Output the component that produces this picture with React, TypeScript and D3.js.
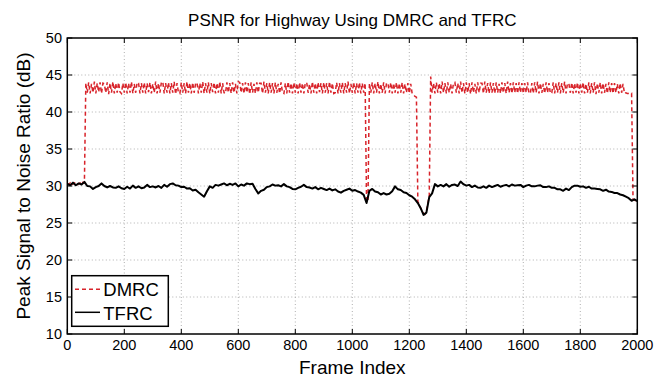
import React from 'react';
import * as d3 from 'd3';

// frames between two samples of each series
const dmrcStep = 5;
const tfrcStep = 10;

const xTicks = [0, 200, 400, 600, 800, 1000, 1200, 1400, 1600, 1800, 2000];
const yTicks = [10, 15, 20, 25, 30, 35, 40, 45, 50];

const seriesNames = ['DMRC', 'TFRC'];

// PSNR (dB), one value per 5 frames
const dmrcPsnr = [
  // 0 - 60
  30.3, 30.2, 30.4, 30.1, 30.3, 30.4, 30.5, 30.2, 30.3, 30.4, 30.2, 30.5, 30.4,
  // 65 - 1045
  43.9, 42.6, 44.0, 42.5, 43.8, 42.6, 44.1, 42.5, 43.9, 42.7,
  44.0, 42.5, 43.9, 43.8, 42.6, 44.0, 42.4, 43.9, 42.6, 44.1,
  42.5, 43.9, 42.6, 44.0, 42.7, 42.5, 43.9, 42.6, 44.0, 42.5,
  43.9, 42.6, 44.1, 42.5, 43.8, 42.6, 44.0, 43.9, 42.5, 43.9,
  42.6, 44.0, 42.5, 43.9, 42.7, 44.0, 42.5, 43.8, 42.6, 44.1,
  42.5, 43.9, 42.6, 44.0, 44.1, 42.5, 43.9, 42.6, 44.0, 42.5,
  43.9, 42.6, 44.1, 42.4, 43.9, 42.6, 42.5, 44.0, 42.6, 43.9,
  42.5, 44.1, 42.6, 43.9, 42.5, 44.0, 42.6, 43.8, 44.0, 42.5,
  43.9, 42.6, 44.1, 42.5, 43.9, 42.6, 44.0, 42.5, 43.9, 42.7,
  44.0, 42.5, 43.9, 42.6, 44.1, 42.5, 43.9, 42.6, 42.5, 44.0,
  42.6, 43.9, 42.5, 44.0, 42.6, 43.8, 42.5, 44.1, 44.0, 42.6,
  43.9, 42.5, 44.0, 42.6, 43.9, 42.4, 44.0, 42.6, 43.8, 42.5,
  44.0, 42.6, 43.9, 43.9, 42.5, 44.1, 42.6, 43.9, 42.5, 44.0,
  42.6, 43.9, 42.5, 44.0, 42.6, 43.8, 42.5, 44.0, 42.6, 42.5,
  43.9, 42.5, 44.1, 42.6, 43.9, 42.5, 44.0, 42.6, 43.9, 42.5,
  44.0, 42.6, 43.9, 42.5, 43.9, 44.0, 42.6, 43.8, 42.5, 44.1,
  42.6, 43.9, 42.5, 44.0, 42.7, 43.9, 42.5, 44.0, 42.6, 43.9,
  42.5, 44.1, 42.6, 43.9, 42.5, 42.6, 44.0, 42.5, 43.9, 42.6,
  44.0, 42.5, 43.9, 42.6, 44.1, 42.5, 43.8, 42.6, 44.0, 42.5,
  43.9, 42.6, 44.0, 42.5, 43.9, 42.6, 43.9,
  // 1050 - 1055
  28.0, 27.9,
  // 1060 - 1220
  43.9, 42.6, 44.0, 42.5, 43.9, 42.6, 44.1, 42.5, 43.8, 42.6,
  44.0, 42.5, 43.9, 43.9, 42.6, 44.0, 42.5, 43.9, 42.6, 44.0,
  42.5, 43.9, 42.6, 44.0, 42.5, 43.8, 42.6, 43.9, 42.5, 43.8,
  42.5, 42.3, 42.1,
  // 1225 - 1270
  42.0, 27.9, 27.5, 27.0, 26.6, 26.3, 26.2, 26.6, 27.6, 28.8,
  // 1275
  44.8,
  // 1280 - 1980
  42.6, 43.9, 42.5, 44.0, 42.6, 43.9, 42.5, 44.1, 42.6, 43.9,
  42.5, 44.0, 42.6, 43.8, 42.5, 43.9, 44.0, 42.6, 43.9, 42.5,
  44.1, 42.6, 43.9, 42.5, 44.0, 42.6, 43.9, 42.4, 44.0, 42.6,
  43.8, 42.5, 44.0, 42.6, 43.9, 43.9, 42.5, 44.1, 42.6, 43.9,
  42.5, 44.0, 42.6, 43.9, 42.5, 44.0, 42.6, 43.8, 42.5, 44.0,
  42.6, 43.9, 42.5, 44.1, 42.6, 43.9, 42.5, 44.0, 42.6, 43.9,
  42.5, 44.0, 42.6, 43.9, 42.5, 43.9, 42.6, 44.0, 42.5, 42.6,
  43.9, 42.5, 44.0, 42.6, 44.1, 42.5, 43.9, 42.6, 43.8, 42.5,
  44.0, 42.6, 43.9, 42.5, 42.6, 44.0, 42.5, 43.9, 42.6, 44.0,
  42.5, 43.9, 42.6, 44.1, 42.5, 43.9, 43.8, 42.6, 44.0, 42.5,
  43.9, 42.6, 44.0, 42.5, 43.9, 42.6, 44.0, 42.5, 43.8, 42.6,
  44.0, 42.5, 43.9, 42.6, 44.0, 42.4, 43.9, 42.6, 44.0, 42.5,
  43.9, 42.6, 43.8, 42.5, 44.0, 42.6, 43.9, 42.5, 43.9, 42.6,
  43.8, 42.5, 43.9, 42.6, 43.8, 42.5, 42.6, 42.5, 42.5, 42.4,
  42.5,
  // 1985 - 2000
  28.2, 28.1, 28.0, 28.0,
];

// PSNR (dB), one value per 10 frames
const tfrcPsnr = [
  30.3, 30.1, 30.45, 30.1, 30.35, 30.2, 30.55, 30.0, 29.95, 29.6, 29.85,
  30.0, 30.35, 30.0, 29.8, 30.0, 29.8, 29.75, 29.95, 29.7, 29.6,
  29.9, 29.65, 30.05, 29.75, 29.95, 29.7, 29.8, 30.15, 29.85, 29.95,
  29.8, 30.0, 29.75, 30.15, 29.9, 30.25, 30.35, 30.1, 30.05, 29.85,
  29.9, 29.65, 29.7, 29.4, 29.5, 29.15, 28.85, 28.55, 29.3, 29.95,
  29.75, 30.15, 30.05, 30.2, 30.35, 30.1, 30.3, 30.15, 30.35, 29.95,
  30.2, 30.05, 30.35, 30.25, 30.3, 29.6, 29.0, 29.35, 29.5, 29.85,
  29.95, 30.2, 30.05, 30.1, 29.95, 30.25, 29.95, 29.85, 29.6, 29.55,
  29.75, 29.9, 30.15, 29.85, 29.8, 29.65, 29.85, 29.55, 29.75, 29.6,
  29.45, 29.65, 29.4, 29.55, 29.25, 29.1, 29.35, 29.5, 29.65, 29.35,
  29.45, 29.25, 29.1, 28.8, 27.7, 29.35, 29.6, 29.25, 29.15, 28.85,
  29.05, 28.85, 28.95, 29.3, 29.95, 29.55, 29.45, 29.15, 29.05, 28.75,
  28.55, 28.2, 27.7, 27.0, 26.1, 26.4, 28.5, 29.0, 30.25, 29.95,
  30.15, 29.95, 30.25, 29.9, 30.15, 30.2, 30.0, 30.6, 30.25, 30.05,
  30.15, 29.85, 30.05, 29.8, 29.75, 29.95, 29.75, 30.05, 29.85, 30.0,
  30.15, 29.9, 30.05, 30.15, 29.95, 30.2, 30.05, 30.1, 30.15, 29.85,
  30.05, 30.15, 29.95, 29.95, 30.05, 30.1, 29.85, 29.85, 29.95, 29.75,
  29.75, 29.55, 29.55, 29.35, 29.65, 29.45, 29.85, 30.05, 30.05, 29.9,
  29.95, 29.75, 29.9, 29.65, 29.65, 29.6, 29.55, 29.35, 29.5, 29.25,
  29.2, 29.05, 29.05, 28.85, 28.75, 28.55, 28.35, 28.0, 28.2, 27.95,
];

const W = 665;
const H = 380;
const left = 67.3;
const right = 637.3;
const top = 38;
const bottom = 334;
const font = "'Liberation Sans', Arial, Helvetica, sans-serif";
const red = '#d8232a';

export default function App() {
  const x = d3.scaleLinear().domain([0, 2000]).range([left, right]);
  const y = d3.scaleLinear().domain([10, 50]).range([bottom, top]);

  const lineFor = (step: number) => d3.line<number>()
    .x((d, i) => x(i * step))
    .y((d) => y(d));

  const tick = 5;

  return (
    <svg width={W} height={H} style={{position: 'absolute', left: 0, top: 0}} fontFamily={font}>
      <rect x={0} y={0} width={W} height={H} fill="#fff" />

      {/* grid */}
      {xTicks.slice(1, -1).map((t) => (
        <line key={'gx' + t} x1={x(t)} x2={x(t)} y1={top} y2={bottom}
          stroke="#b0b0b0" strokeWidth={1} strokeDasharray="1,2.5" />
      ))}
      {yTicks.slice(1, -1).map((t) => (
        <line key={'gy' + t} x1={left} x2={right} y1={y(t)} y2={y(t)}
          stroke="#b0b0b0" strokeWidth={1} strokeDasharray="1,2.5" />
      ))}

      {/* series */}
      <path d={lineFor(dmrcStep)(dmrcPsnr) || ''} fill="none" stroke={red} strokeWidth={1.5} strokeDasharray="4,3" />
      <path d={lineFor(tfrcStep)(tfrcPsnr) || ''} fill="none" stroke="#000" strokeWidth={2} strokeLinejoin="round" />

      {/* axes box + ticks */}
      <rect x={left} y={top} width={right - left} height={bottom - top} fill="none" stroke="#000" strokeWidth={1.5} />
      {xTicks.map((t) => (
        <g key={'tx' + t}>
          <line x1={x(t)} x2={x(t)} y1={bottom} y2={bottom - tick} stroke="#000" />
          <line x1={x(t)} x2={x(t)} y1={top} y2={top + tick} stroke="#000" />
          <text x={x(t)} y={350} fontSize={14.5} textAnchor="middle">{t}</text>
        </g>
      ))}
      {yTicks.map((t) => (
        <g key={'ty' + t}>
          <line x1={left} x2={left + tick} y1={y(t)} y2={y(t)} stroke="#000" />
          <line x1={right} x2={right - tick} y1={y(t)} y2={y(t)} stroke="#000" />
          <text x={62} y={y(t) + 5} fontSize={14.5} textAnchor="end">{t}</text>
        </g>
      ))}

      {/* labels */}
      <text x={(left + right) / 2} y={26} fontSize={17} textAnchor="middle">PSNR for Highway Using DMRC and TFRC</text>
      <text x={(left + right) / 2} y={374} fontSize={19} textAnchor="middle">Frame Index</text>
      <text transform={`translate(30,${(top + bottom) / 2}) rotate(-90)`} fontSize={19} textAnchor="middle">
        Peak Signal to Noise Ratio (dB)
      </text>

      {/* legend */}
      <rect x={71.7} y={275.7} width={96.6} height={50.6} fill="#fff" stroke="#000" strokeWidth={1.5} />
      <line x1={75} x2={100} y1={289.3} y2={289.3} stroke={red} strokeWidth={1.5} strokeDasharray="4,3" />
      <text x={103.3} y={296} fontSize={18.5}>{seriesNames[0]}</text>
      <line x1={75} x2={100} y1={312.3} y2={312.3} stroke="#000" strokeWidth={1.5} />
      <text x={103.3} y={319.5} fontSize={18.5}>{seriesNames[1]}</text>
    </svg>
  );
}
